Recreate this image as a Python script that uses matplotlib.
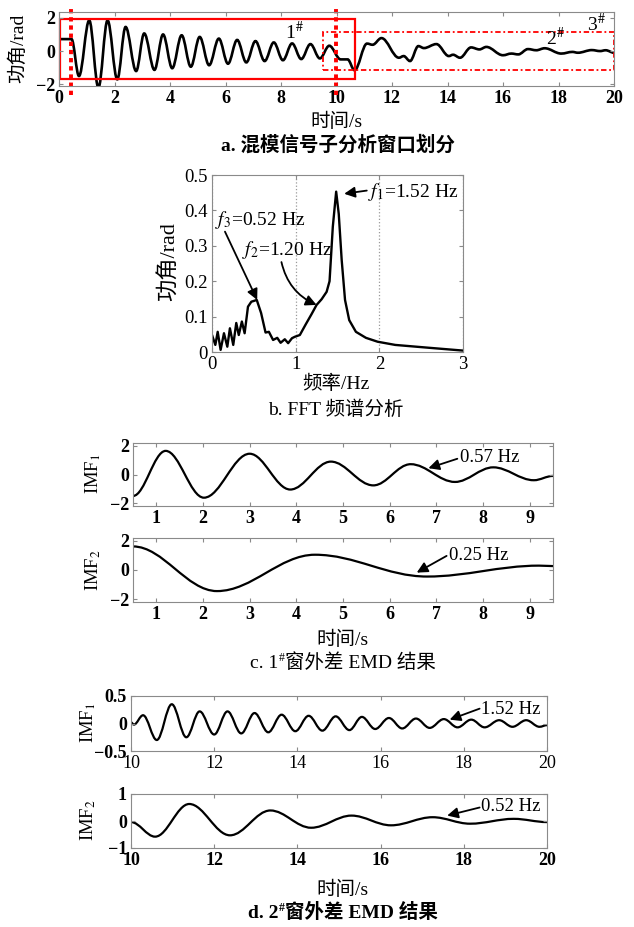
import matplotlib
matplotlib.use("Agg")
import matplotlib.pyplot as plt
from matplotlib.path import Path
from matplotlib.patches import PathPatch, Rectangle

plt.rcParams["font.family"] = ["Liberation Serif", "Noto Sans CJK SC"]
plt.rcParams["mathtext.fontset"] = "stix"

W, H = 634, 927

# a. mixed-mode signal (turning points)
ta = [0.0, 0.45, 0.72, 1.09, 1.42, 1.75, 2.1, 2.4, 2.78, 3.07,
      3.44, 3.75, 4.08, 4.42, 4.75, 5.07, 5.41, 5.76, 6.09, 6.42,
      6.75, 7.08, 7.41, 7.74, 8.07, 8.4, 8.73, 9.06, 9.4, 9.74,
      10.15, 10.4, 10.65, 11.1, 11.3, 11.62, 12.25, 12.42, 12.65, 12.95,
      13.15, 13.6, 14.05, 14.2, 14.45, 14.85, 15.15, 15.4, 16.0, 16.3,
      16.55, 16.9, 17.2, 17.5, 18.1, 18.5, 18.7, 19.2, 19.5, 19.7, 20.0]
ya = [0.72, 0.72, -1.5, 1.85, -2.2, 1.85, -1.7, 1.45, -1.2, 1.06,
      -1.13, 1.0, -1.03, 0.95, -0.94, 0.85, -0.85, 0.75, -0.76, 0.67,
      -0.68, 0.6, -0.6, 0.52, -0.55, 0.46, -0.48, 0.42, -0.44, 0.32,
      -0.5, -0.5, -1.15, 0.45, 0.38, 0.78, -0.4, -0.3, -0.6, 0.3,
      0.18, 0.42, -0.3, -0.22, -0.4, 0.22, 0.1, 0.25, -0.25, -0.15,
      -0.2, 0.12, 0.05, 0.17, -0.15, -0.05, -0.1, 0.06, 0.0, 0.05, -0.1]
win1 = [0.05, 10.65, -1.70, 1.94]      # t0, t1, y0, y1
win2 = [9.53, 20.0, -1.16, 1.16]
cuts = [0.45, 9.97]
win_names = [("1", 8.5, 1.15), ("2", 17.9, 0.76), ("3", 19.35, 1.6)]

# b. FFT spectrum
fb = [0.0, 0.04, 0.068, 0.103, 0.143, 0.183, 0.214, 0.254, 0.29, 0.32,
      0.357, 0.39, 0.43, 0.47, 0.535, 0.587, 0.64, 0.68, 0.73, 0.78,
      0.82, 0.87, 0.91, 0.956, 0.99, 1.05, 1.12, 1.19, 1.25, 1.31,
      1.37, 1.405, 1.444, 1.484, 1.515, 1.55, 1.59, 1.64, 1.72, 1.84,
      1.98, 2.19, 2.59, 3.0]
ab = [0.048, 0.02, 0.057, 0.006, 0.053, 0.015, 0.067, 0.02, 0.082, 0.048,
      0.086, 0.053, 0.128, 0.142, 0.147, 0.11, 0.055, 0.057, 0.034, 0.04,
      0.026, 0.036, 0.025, 0.039, 0.043, 0.048, 0.078, 0.107, 0.133, 0.149,
      0.17, 0.2, 0.354, 0.453, 0.39, 0.26, 0.147, 0.09, 0.057, 0.04,
      0.029, 0.02, 0.012, 0.004]
b_yticks = [0, 0.1, 0.2, 0.3, 0.4, 0.5]
b_ylabels = ["0", "0.1", "0.2", "0.3", "0.4", "0.5"]

# c. window 1 EMD
tc1 = [0.5, 1.2, 2.02, 3.0, 3.87, 4.74, 5.65, 6.45, 7.4, 8.22, 9.09, 9.5]
yc1 = [-1.5, 1.65, -1.62, 1.45, -1.05, 0.9, -0.76, 0.72, -0.52, 0.5, -0.4, -0.1]
tc2 = [0.5, 2.3, 4.4, 6.8, 9.2, 9.5]
yc2 = [1.62, -1.45, 1.05, -0.45, 0.3, 0.27]

# d. window 2 EMD
td1 = [10.0, 10.07, 10.29, 10.62, 10.98, 11.33, 11.65, 12.0, 12.32, 12.65,
       12.97, 13.3, 13.62, 13.95, 14.27, 14.6, 14.92, 15.25, 15.55, 15.87,
       16.2, 16.52, 16.85, 17.18, 17.52, 17.85, 18.18, 18.5, 18.85, 19.17,
       19.5, 19.82, 20.0]
yd1 = [0.02, -0.02, 0.15, -0.3, 0.35, -0.25, 0.22, -0.2, 0.22, -0.18,
       0.19, -0.16, 0.16, -0.14, 0.14, -0.13, 0.13, -0.12, 0.12, -0.1,
       0.1, -0.09, 0.09, -0.08, 0.08, -0.07, 0.07, -0.07, 0.06, -0.06,
       0.06, -0.06, -0.03]
td2 = [10.0, 10.58, 11.4, 12.38, 13.35, 14.33, 15.3, 16.25, 17.25, 18.15, 19.2, 20.0]
yd2 = [-0.04, -0.58, 0.63, -0.53, 0.39, -0.25, 0.2, -0.16, 0.14, -0.1, 0.08, -0.04]


def curve(ts, vs):
    # smooth path through the turning points (flat tangent at each)
    verts = [(ts[0], vs[0])]
    codes = [Path.MOVETO]
    for i in range(1, len(ts)):
        d = (ts[i] - ts[i - 1]) * 0.36
        verts += [(ts[i - 1] + d, vs[i - 1]), (ts[i] - d, vs[i]), (ts[i], vs[i])]
        codes += [Path.CURVE4] * 3
    return Path(verts, codes)


fig = plt.figure(figsize=(W / 100, H / 100), dpi=100)


def box(l, t, r, b):
    return fig.add_axes([l / W, 1 - b / H, (r - l) / W, (b - t) / H])


def style(ax, size, bold):
    for s in ax.spines.values():
        s.set_color("#8a8a8a")
    ax.tick_params(direction="in", top=True, right=True, length=3,
                   color="#8a8a8a", labelsize=size, pad=3)
    for lab in ax.get_xticklabels() + ax.get_yticklabels():
        lab.set_fontweight("bold" if bold else "normal")


def label(x, y, s, size, rot=0, weight="normal"):
    fig.text(x / W, 1 - y / H, s, fontsize=size, rotation=rot,
             ha="center", va="center", fontweight=weight)


def runs(xc, ybase, parts):
    r = fig.canvas.get_renderer()
    objs = [fig.text(0, 0, s, fontsize=sz, fontweight=wt, transform=None,
                     ha="left", va="baseline") for s, sz, wt, dy in parts]
    widths = [o.get_window_extent(r).width for o in objs]
    x = xc - sum(widths) / 2
    for o, w, p in zip(objs, widths, parts):
        o.set_position((x, H - ybase + p[3]))
        x += w


def arrow(ax, tail, head, rad=0.0):
    ax.annotate("", xy=head, xytext=tail,
                arrowprops=dict(arrowstyle="-|>", color="k", lw=1.3,
                                mutation_scale=16, shrinkA=0, shrinkB=0,
                                connectionstyle=f"arc3,rad={rad}"))


# ---------------- a ----------------
ax = box(59, 12, 614, 86)
ax.add_patch(PathPatch(curve(ta, ya), fill=False, lw=1.9, color="k"))
ax.set_xlim(0, 20)
ax.set_ylim(-2.1, 2.35)
ax.set_xticks(range(0, 21, 2))
ax.set_yticks([-2, 0, 2])
style(ax, 13, True)
ax.add_patch(Rectangle((win1[0], win1[2]), win1[1] - win1[0], win1[3] - win1[2],
                       fill=False, ec="red", lw=1.6, clip_on=False))
ax.add_patch(Rectangle((win2[0], win2[2]), win2[1] - win2[0], win2[3] - win2[2],
                       fill=False, ec="red", lw=1.3, ls=(0, (3, 1.5, 1, 1.5)),
                       clip_on=False))
for c in cuts:
    ax.plot([c, c], [-2.65, 2.7], color="red", lw=2.8, ls=(0, (1.1, 1.0)),
            clip_on=False)
for n, x, y in win_names:
    ax.text(x, y, n + r"$^{\#}$", fontsize=14, ha="center", va="center")
label(18, 48, "功角/rad", 14, rot=90)
label(336, 122, "时间/s", 14)
label(338, 145, "a. 混模信号子分析窗口划分", 14, weight="bold")

# ---------------- b ----------------
ax = box(212, 175, 463, 352)
ax.plot(fb, ab, color="k", lw=1.7)
ax.set_xlim(0, 3)
ax.set_ylim(0, 0.5)
ax.set_xticks([0, 1, 2, 3])
ax.set_yticks(b_yticks)
ax.set_yticklabels(b_ylabels)
ax.xaxis.grid(True, ls=":", color="#999999", lw=0.9)
style(ax, 13.5, False)
arrow(ax, (0.155, 0.34), (0.54, 0.147))
arrow(ax, (0.83, 0.254), (1.25, 0.133), rad=0.25)
arrow(ax, (1.85, 0.456), (1.58, 0.447))
ax.text(0.04, 0.373, "$f_3$=0.52 Hz", fontsize=14, va="center")
ax.text(0.36, 0.288, "$f_2$=1.20 Hz", fontsize=14, va="center")
ax.text(1.87, 0.452, "$f_1$=1.52 Hz", fontsize=14, va="center")
label(168, 262, "功角/rad", 16, rot=90)
label(336, 384, "频率/Hz", 14)
label(336, 410, "b. FFT 频谱分析", 14)

# ---------------- c ----------------
axc1 = box(133, 443, 553, 506)
axc1.add_patch(PathPatch(curve(tc1, yc1), fill=False, lw=1.6, color="k"))
axc1.set_ylim(-2.2, 2.2)
axc2 = box(133, 538, 553, 602)
axc2.add_patch(PathPatch(curve(tc2, yc2), fill=False, lw=1.6, color="k"))
axc2.set_ylim(-2.2, 2.2)
for a in (axc1, axc2):
    a.set_xlim(0.5, 9.5)
    a.set_xticks(range(1, 10))
    a.set_yticks([-2, 0, 2])
    style(a, 13, True)
arrow(axc1, (7.45, 1.1), (6.83, 0.44))
axc1.text(7.5, 1.22, "0.57 Hz", fontsize=13.5, va="center")
arrow(axc2, (7.22, 0.97), (6.58, -0.18))
axc2.text(7.28, 1.0, "0.25 Hz", fontsize=13.5, va="center")
label(93, 474, "IMF$_1$", 13.5, rot=90)
label(93, 570, "IMF$_2$", 13.5, rot=90)
label(342, 640, "时间/s", 14)
runs(343, 668, [("c. 1", 14, "normal", 0), ("#", 8.5, "normal", 7),
                ("窗外差 EMD 结果", 14, "normal", 0)])

# ---------------- d ----------------
axd1 = box(131, 696, 547, 751)
axd1.add_patch(PathPatch(curve(td1, yd1), fill=False, lw=1.6, color="k"))
axd1.set_ylim(-0.5, 0.5)
axd1.set_yticks([-0.5, 0, 0.5])
axd1.set_yticklabels(["\u22120.5", "0", "0.5"])
axd2 = box(131, 794, 547, 848)
axd2.add_patch(PathPatch(curve(td2, yd2), fill=False, lw=1.6, color="k"))
axd2.set_ylim(-1, 1)
axd2.set_yticks([-1, 0, 1])
for a, bold in ((axd1, False), (axd2, True)):
    a.set_xlim(10, 20)
    a.set_xticks(range(10, 21, 2))
    style(a, 13, bold)
for lab in axd1.get_yticklabels():
    lab.set_fontweight("bold")
arrow(axd1, (18.38, 0.27), (17.66, 0.07))
axd1.text(18.42, 0.25, "1.52 Hz", fontsize=13.5, va="center")
arrow(axd2, (18.38, 0.5), (17.6, 0.2))
axd2.text(18.42, 0.53, "0.52 Hz", fontsize=13.5, va="center")
label(88, 723, "IMF$_1$", 13.5, rot=90)
label(88, 820, "IMF$_2$", 13.5, rot=90)
label(342, 890, "时间/s", 14)
runs(343, 918, [("d. 2", 14, "bold", 0), ("#", 8.5, "bold", 7),
                ("窗外差 EMD 结果", 14, "bold", 0)])

fig.savefig("out.png", dpi=100)
